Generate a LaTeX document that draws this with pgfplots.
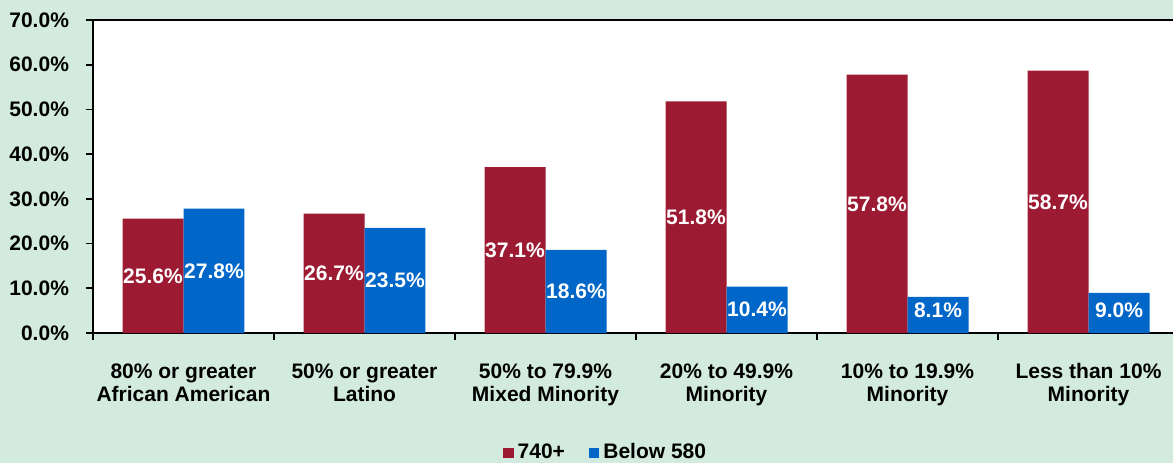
\documentclass[border=0pt]{standalone}
\usepackage{fontspec}
\setmainfont{Liberation Sans}
\usepackage{pgfplots}
\pgfplotsset{compat=1.18}

\definecolor{bggreen}{HTML}{D3EBDE}
\definecolor{barred}{HTML}{9C1B32}
\definecolor{barblue}{HTML}{0066C7}
\newcommand\lbl{\bfseries\fontsize{10.5}{11.6}\selectfont}

\begin{document}
\begin{tikzpicture}
% reference is 1173x463 px, drawn here at 0.5pt per px
\fill[bggreen] (0,0) rectangle (586.5pt,231.5pt);
\begin{axis}[
  at={(46.5pt,65pt)}, anchor=south west,
  scale only axis, width=543pt, height=156.5pt,
  axis background/.style={fill=white},
  axis line style={line width=1pt},
  ybar=0pt, bar width=0.337,
  xmin=-0.5, xmax=5.5, ymin=0, ymax=70,
  enlargelimits=false,
  xtick={0,...,5},
  xticklabels={{\strut 80\% or greater\\African American},{\strut 50\% or greater\\Latino},
    {\strut 50\% to 79.9\%\\Mixed Minority},{\strut 20\% to 49.9\%\\Minority},
    {\strut 10\% to 19.9\%\\Minority},{\strut Less than 10\%\\Minority}},
  minor xtick={-0.5,0.5,...,5.5},
  major x tick style={draw=none},
  ytick={0,10,...,70},
  yticklabels={0.0\%,10.0\%,20.0\%,30.0\%,40.0\%,50.0\%,60.0\%,70.0\%},
  tick align=outside, tick style={black, line width=0.8pt},
  major tick length=3.5pt, minor tick length=3.5pt,
  ytick pos=left, xtick pos=bottom,
  tick label style={font=\lbl},
  xticklabel style={align=center, yshift=-7.5pt},
  yticklabel style={xshift=-5pt},
  /pgf/number format/assume math mode=true,
  nodes near coords={\pgfmathprintnumber[fixed,fixed zerofill,precision=1]{\pgfplotspointmeta}\%},
  visualization depends on={y-max(y/2,5.1) \as \dropy},
  every node near coord/.append style={anchor=center, text=white, font=\lbl,
    shift={(axis direction cs:0,-\dropy)}},
  legend style={at={(0.473,-0.383)}, anchor=center, draw=none, fill=none,
    font=\lbl, legend columns=-1,
    /tikz/every even column/.append style={column sep=10pt}},
  legend image code/.code={\fill[#1] (0pt,-2.6pt) rectangle (5.2pt,2.6pt);},
]
\addplot[fill=barred, draw=none] coordinates {
  (0,25.6) (1,26.7) (2,37.1) (3,51.8) (4,57.8) (5,58.7)};
\addplot[fill=barblue, draw=none] coordinates {
  (0,27.8) (1,23.5) (2,18.6) (3,10.4) (4,8.1) (5,9.0)};
\legend{740+,Below 580}
\end{axis}
\pgfresetboundingbox
\path[use as bounding box] (0,0) rectangle (586.5pt,231.5pt);
\end{tikzpicture}
\end{document}
